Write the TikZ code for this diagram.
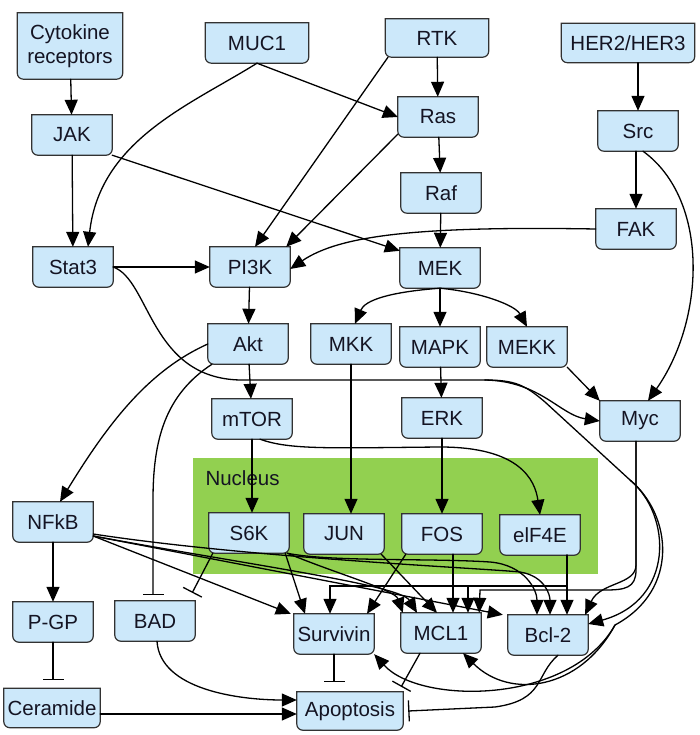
\documentclass[tikz,border=0pt]{standalone}
\usepackage{fontspec}
\setmainfont{Liberation Sans}
\usetikzlibrary{arrows.meta}
\pgfdeclarelayer{background}
\pgfsetlayers{background,main}
\definecolor{genefill}{RGB}{204,232,250}
\definecolor{geneline}{RGB}{50,50,50}
\definecolor{genetext}{RGB}{20,20,35}
\definecolor{nucgreen}{RGB}{146,208,80}
\newcommand{\genefont}{\fontsize{20.5}{24}\selectfont}

\begin{document}
\begin{tikzpicture}[x=1pt,y=-1pt,line cap=round,
    gene/.style={minimum width=80pt,minimum height=40pt,inner sep=1pt,align=center,text=genetext,font=\genefont},
    genebox/.style={fill=genefill,draw=geneline,line width=1.2pt},
    link/.style={line width=1.3pt},
    act/.style={-{Triangle[length=15pt,width=13pt]},line width=1.3pt},
    inh/.style={-{Bar[width=21pt,line width=1.3pt]},line width=1.3pt}]
    \useasboundingbox (0,0) rectangle (700,735);

    % receptors
    \node[gene,minimum width=105pt,minimum height=66pt] (cyto) at (70,46) {Cytokine\\receptors};
    \node[gene,minimum width=103pt] (muc) at (257,43) {MUC1};
    \node[gene,minimum width=103pt,minimum height=38pt] (rtk) at (437,38) {RTK};
    \node[gene,minimum width=133pt,minimum height=39pt] (her) at (628,43) {HER2/HER3};
    % kinases
    \node[gene] (jak) at (72,135) {JAK};
    \node[gene] (ras) at (438,117) {Ras};
    \node[gene] (src) at (638,131) {Src};
    \node[gene] (raf) at (441,193) {Raf};
    \node[gene] (fak) at (636,229) {FAK};
    \node[gene] (stat) at (73,267) {Stat3};
    \node[gene] (pik) at (250,267) {PI3K};
    \node[gene] (mek) at (440,268) {MEK};
    \node[gene] (akt) at (248,344) {Akt};
    \node[gene] (mkk) at (351,344) {MKK};
    \node[gene] (mapk) at (440,347) {MAPK};
    \node[gene] (mekk) at (527,347) {MEKK};
    \node[gene] (mtor) at (252,419) {mTOR};
    \node[gene] (erk) at (442,418) {ERK};
    \node[gene] (myc) at (640,421) {Myc};
    % nucleus
    \node[text=genetext,font=\genefont,anchor=west] (nuclabel) at (202,478) {Nucleus};
    \node[gene] (nfkb) at (53,522) {NFkB};
    \node[gene] (s6k) at (249,533) {S6K};
    \node[gene] (jun) at (344,534) {JUN};
    \node[gene] (fos) at (442,534) {FOS};
    \node[gene] (eif) at (540,535) {elF4E};
    % targets
    \node[gene] (pgp) at (53,622) {P-GP};
    \node[gene] (bad) at (155,621) {BAD};
    \node[gene] (surv) at (334,634) {Survivin};
    \node[gene] (mcl) at (441,633) {MCL1};
    \node[gene] (bcl) at (548,635) {Bcl-2};
    \node[gene,minimum width=96pt,minimum height=39pt] (cer) at (52,708) {Ceramide};
    \node[gene,minimum width=106pt,minimum height=38pt] (apo) at (350,711) {Apoptosis};

    \begin{pgfonlayer}{background}
        \fill[nucgreen] (193,458) rectangle (598,574);
        \foreach \n in {cyto,muc,rtk,her,jak,ras,src,raf,fak,stat,pik,mek,akt,mkk,mapk,mekk,mtor,erk,myc,nfkb,s6k,jun,fos,eif,pgp,bad,surv,mcl,bcl,cer,apo}{
            \filldraw[genebox,line cap=butt] (\n.north west) -- ([yshift=6pt]\n.south west) arc[start angle=180,end angle=270,radius=6pt]
                -- ([xshift=-6pt]\n.south east) arc[start angle=270,end angle=360,radius=6pt] -- (\n.north east) -- cycle;
        }
    \end{pgfonlayer}

    % upper cascade
    \draw[act] (cyto) -- (jak);
    \draw[act] (jak) -- (stat);
    \draw[act] (muc.south) .. controls (190,105) and (100,140) .. ([xshift=15pt]stat.north);
    \draw[act] (muc.south) -- (ras.west);
    \draw[act] (rtk) -- (ras);
    \draw[act] ([xshift=-49pt]rtk.south) -- ([xshift=5pt]pik.north);
    \draw[act] ([yshift=3pt]ras.south west) -- ([xshift=-4pt]pik.north east);
    \draw[act] (jak.south east) -- ([yshift=-3pt]mek.north west);
    \draw[act] (ras) -- (raf);
    \draw[act] (raf) -- (mek);
    \draw[act] (src.north |- her.south) -- (src.north);
    \draw[act] (fak.north |- src.south) -- (fak.north);
    \draw[act] ([xshift=5pt]src.south) .. controls (710,200) and (705,320) .. ([xshift=8pt]myc.north);
    \draw[act] (fak.west) .. controls (420,226) and (340,235) .. ([yshift=-2pt]pik.east);
    \draw[act] (stat) -- (pik);
    \draw[act] (pik) -- (akt);
    \draw[act] (akt) -- (mtor);
    \draw[act] (mek.south) .. controls (390,292) and (365,300) .. ([xshift=4pt]mkk.north);
    \draw[act] (mek) -- (mapk);
    \draw[act] (mek.south) .. controls (480,292) and (515,305) .. (mekk.north);
    \draw[act] (mapk) -- (erk);
    \draw[act] (mekk.south east) -- (myc.north west);

    % Stat3 targets, one shared trunk
    \coordinate (strunk) at (485,380);
    \coordinate (sdiag) at (630,480);
    \coordinate (sloop) at (615,625);
    \draw[link] (stat.east) .. controls (150,280) and (150,378) .. (240,380) -- (strunk);
    \draw[act] (strunk) .. controls (540,381) and (560,415) .. (myc.west);
    \draw[link] (strunk) .. controls (515,380) and (525,385) .. (545,402) -- (sdiag);
    \draw[act] (sdiag) .. controls (672,515) and (675,600) .. ([yshift=11pt]bcl.east);
    \draw[link] (sdiag) .. controls (672,515) and (680,590) .. (sloop);
    \draw[act] (sloop) .. controls (580,690) and (510,700) .. ([xshift=22pt]mcl.south);
    \draw[act] (sloop) .. controls (570,705) and (420,705) .. (surv.south east);

    % Akt and mTOR
    \draw[act] (akt.west) .. controls (150,370) and (110,420) .. ([xshift=7pt]nfkb.north);
    \draw[inh] ([xshift=-36pt]akt.south) .. controls (165,395) and (153,440) .. (153,500) -- ([xshift=-2pt,yshift=6pt]bad.north);
    \draw[act] (mtor.south) -- (mtor.south |- s6k.north);
    \draw[act] ([xshift=8pt]mtor.south) .. controls (290,450) and (330,448) .. (440,447) .. controls (520,447) and (535,480) .. (eif.north);
    \draw[act] (mkk.south) -- (mkk.south |- jun.north);
    \draw[act] (erk) -- (fos);

    % NFkB
    \draw[act] (nfkb) -- (pgp);
    \draw[act] ([yshift=-14pt]nfkb.east) -- ([xshift=-3pt]surv.north west);
    \draw[act] ([yshift=-14pt]nfkb.east) .. controls (250,565) and (400,585) .. ([xshift=-24pt]mcl.north);
    \draw[act] ([yshift=-14pt]nfkb.east) -- ([xshift=-5pt]bcl.north west);
    \draw[act] ([yshift=-12pt]nfkb.east) .. controls (250,558) and (480,568) .. (520,572) .. controls (545,576) and (550,595) .. ([xshift=2pt]bcl.north);

    % S6K, JUN, FOS, elF4E
    \draw[inh] ([xshift=4pt]s6k.south west) -- ([xshift=-3pt,yshift=8pt]bad.north east);
    \draw[act] ([xshift=-4pt]s6k.south east) -- ([xshift=-29pt]surv.north);
    \draw[act] ([xshift=-2pt]s6k.south east) .. controls (340,575) and (395,590) .. ([xshift=2pt]mcl.north west);
    \draw[act] ([xshift=-2pt]s6k.south east) .. controls (330,562) and (430,558) .. (490,562) .. controls (525,565) and (537,590) .. ([xshift=-11pt]bcl.north);
    \draw[act] ([xshift=-3pt]jun.south east) -- ([xshift=-4pt]mcl.north);
    \draw[act] ([xshift=4pt]fos.south west) -- ([xshift=33pt]surv.north);
    \draw[act] ([xshift=11pt]fos.south) -- ([xshift=12pt]mcl.north);
    \draw[act] ([xshift=27pt]eif.south) -- ([xshift=27pt]eif.south |- bcl.north);
    \draw[act] ([xshift=27pt]eif.south) |- (468,586) -- ([xshift=27pt]mcl.north);
    \draw[act] ([xshift=27pt]eif.south) |- (330,586) -- ([xshift=-4pt]surv.north);

    % Myc
    \draw[act] ([xshift=-4pt]myc.south) -- (636,565) .. controls (636,585) and (600,582) .. ([xshift=-3pt]bcl.north east);
    \draw[act] ([xshift=-4pt]myc.south) -- (636,570) .. controls (636,588) and (625,590) .. (605,590) -- (480,590) -- ([xshift=-2pt]mcl.north east);

    % apoptosis
    \draw[inh] (pgp.south) -- ([yshift=8pt]pgp.south |- cer.north);
    \draw[act] ([xshift=2pt]bad.south) .. controls (160,690) and (240,700) .. ([yshift=11pt]apo.west);
    \draw[act] ([yshift=-6pt]cer.east) -- ([yshift=-3pt]apo.west);
    \draw[inh] (surv.south) -- ([yshift=10pt]surv.south |- apo.north);
    \draw[inh] ([xshift=-21pt]mcl.south) -- ([xshift=-2pt,yshift=5pt]apo.north east);
    \draw[inh] ([xshift=10pt]bcl.south) .. controls (535,675) and (545,700) .. (495,707) -- ([xshift=5pt]apo.east);
\end{tikzpicture}
\end{document}
